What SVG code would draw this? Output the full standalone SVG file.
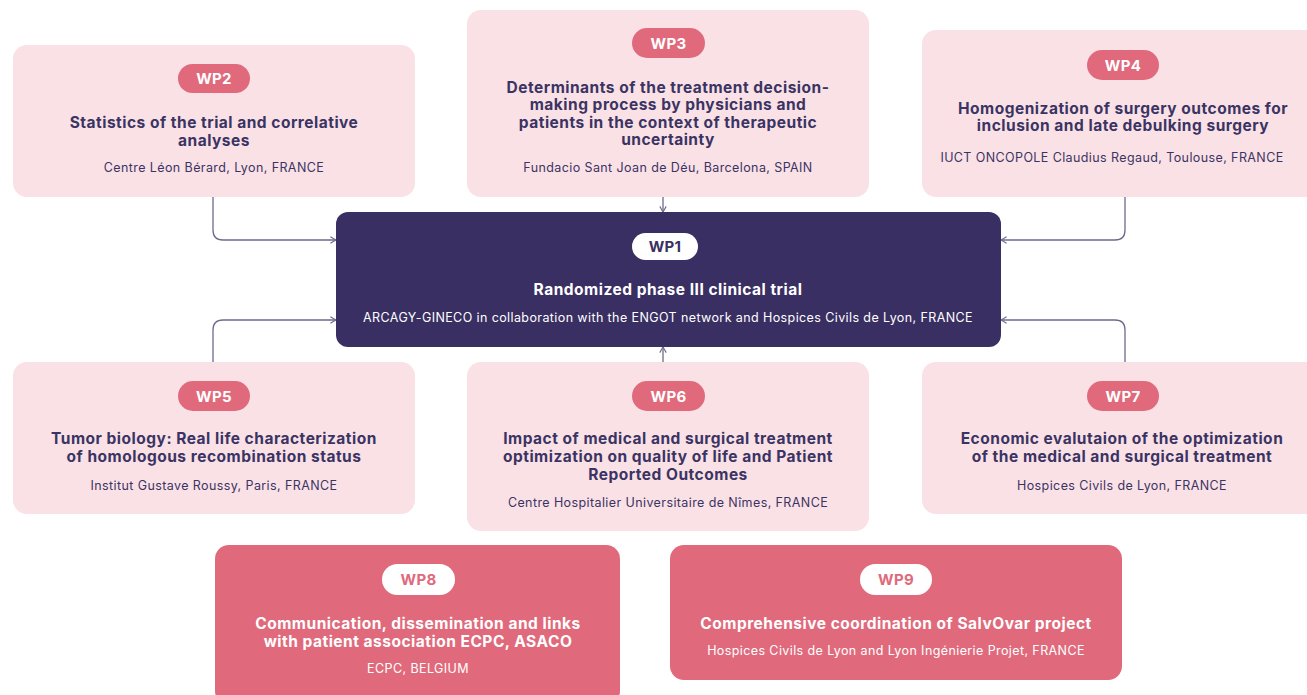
<svg xmlns="http://www.w3.org/2000/svg" width="1307" height="695" viewBox="0 0 1307 695">
  <defs>
    <style>
      .card { fill: #fae1e5; }
      .card-main { fill: #3a2f63; }
      .card-accent { fill: #e06a7c; }
      .pill { fill: #e06a7c; }
      .pill-light { fill: #ffffff; }
      .tag { font-family: Inter, "Liberation Sans", sans-serif; font-weight: 700; font-size: 15px; letter-spacing: 0.3px; text-anchor: middle; fill: #ffffff; }
      .tag-dark { fill: #3a2f63; }
      .tag-accent { fill: #e06a7c; }
      .title { font-family: Inter, "Liberation Sans", sans-serif; font-weight: 700; font-size: 15.5px; letter-spacing: 0.5px; text-anchor: middle; fill: #3a3464; }
      .sub { font-family: Inter, "Liberation Sans", sans-serif; font-weight: 400; font-size: 12.5px; letter-spacing: 0.4px; text-anchor: middle; fill: #3a3464; }
      .light { fill: #ffffff; }
      .link { fill: none; stroke: #6e6a8c; stroke-width: 1.3; }
    </style>
    <marker id="arrow" viewBox="0 0 10 10" refX="9" refY="5" markerWidth="8" markerHeight="8" orient="auto" markerUnits="userSpaceOnUse">
      <path d="M2,1 L9,5 L2,9" fill="none" stroke="#6e6a8c" stroke-width="1.4"/>
    </marker>
  </defs>

  <rect width="1307" height="695" fill="#ffffff"/>

  <!-- connectors into WP1 -->
  <g id="connectors">
    <path class="link" d="M213,197 V230 Q213,240 223,240 H336" marker-end="url(#arrow)"/>
    <path class="link" d="M663,197 V212" marker-end="url(#arrow)"/>
    <path class="link" d="M1125,197 V230 Q1125,240 1115,240 H1001" marker-end="url(#arrow)"/>
    <path class="link" d="M213,362 V330 Q213,320 223,320 H336" marker-end="url(#arrow)"/>
    <path class="link" d="M663,362 V347" marker-end="url(#arrow)"/>
    <path class="link" d="M1125,362 V330 Q1125,320 1115,320 H1001" marker-end="url(#arrow)"/>
  </g>

  <g id="wp1">
    <rect class="card-main" x="336" y="212" width="665" height="135" rx="12"/>
    <rect class="pill-light" x="632" y="233" width="66" height="27" rx="13.5"/>
    <text class="tag tag-dark" x="665" y="252">WP1</text>
    <text class="title light" x="668" y="295">Randomized phase III clinical trial</text>
    <text class="sub light" x="668" y="321.5">ARCAGY-GINECO in collaboration with the ENGOT network and Hospices Civils de Lyon, FRANCE</text>
  </g>

  <g id="wp2">
    <rect class="card" x="13" y="45" width="402" height="152" rx="14"/>
    <rect class="pill" x="178" y="64" width="72" height="29" rx="14.5"/>
    <text class="tag" x="214" y="84">WP2</text>
    <text class="title" x="214" y="128">Statistics of the trial and correlative</text>
    <text class="title" x="214" y="145.5">analyses</text>
    <text class="sub" x="214" y="171.5">Centre Léon Bérard, Lyon, FRANCE</text>
  </g>

  <g id="wp3">
    <rect class="card" x="467" y="10" width="402" height="187" rx="14"/>
    <rect class="pill" x="632" y="28" width="73" height="30" rx="15"/>
    <text class="tag" x="668.5" y="48.5">WP3</text>
    <text class="title" x="668" y="92.5">Determinants of the treatment decision-</text>
    <text class="title" x="668" y="110">making process by physicians and</text>
    <text class="title" x="668" y="127.5">patients in the context of therapeutic</text>
    <text class="title" x="668" y="145">uncertainty</text>
    <text class="sub" x="668" y="171.5">Fundacio Sant Joan de Déu, Barcelona, SPAIN</text>
  </g>

  <g id="wp4">
    <rect class="card" x="922" y="30" width="400" height="167" rx="14"/>
    <rect class="pill" x="1087" y="50" width="72" height="30" rx="15"/>
    <text class="tag" x="1123" y="70.5">WP4</text>
    <text class="title" x="1123" y="113.5">Homogenization of surgery outcomes for</text>
    <text class="title" x="1123" y="131">inclusion and late debulking surgery</text>
    <text class="sub" x="1112" y="161.5">IUCT ONCOPOLE Claudius Regaud, Toulouse, FRANCE</text>
  </g>

  <g id="wp5">
    <rect class="card" x="13" y="362" width="402" height="152" rx="14"/>
    <rect class="pill" x="178" y="381" width="72" height="30" rx="15"/>
    <text class="tag" x="214" y="401.5">WP5</text>
    <text class="title" x="214" y="443.5">Tumor biology: Real life characterization</text>
    <text class="title" x="214" y="462">of homologous recombination status</text>
    <text class="sub" x="214" y="489.5">Institut Gustave Roussy, Paris, FRANCE</text>
  </g>

  <g id="wp6">
    <rect class="card" x="467" y="362" width="402" height="169" rx="14"/>
    <rect class="pill" x="632" y="381" width="73" height="30" rx="15"/>
    <text class="tag" x="668.5" y="401.5">WP6</text>
    <text class="title" x="668" y="443.5">Impact of medical and surgical treatment</text>
    <text class="title" x="668" y="461.5">optimization on quality of life and Patient</text>
    <text class="title" x="668" y="479.5">Reported Outcomes</text>
    <text class="sub" x="668" y="506.5">Centre Hospitalier Universitaire de Nîmes, FRANCE</text>
  </g>

  <g id="wp7">
    <rect class="card" x="922" y="362" width="400" height="152" rx="14"/>
    <rect class="pill" x="1087" y="381" width="72" height="30" rx="15"/>
    <text class="tag" x="1123" y="401.5">WP7</text>
    <text class="title" x="1122" y="443.5">Economic evalutaion of the optimization</text>
    <text class="title" x="1122" y="462">of the medical and surgical treatment</text>
    <text class="sub" x="1122" y="489.5">Hospices Civils de Lyon, FRANCE</text>
  </g>

  <g id="wp8">
    <rect class="card-accent" x="215" y="545" width="405" height="160" rx="14"/>
    <rect class="pill-light" x="382" y="564" width="73" height="31" rx="15.5"/>
    <text class="tag tag-accent" x="418.5" y="585">WP8</text>
    <text class="title light" x="418" y="628.5">Communication, dissemination and links</text>
    <text class="title light" x="418" y="647">with patient association ECPC, ASACO</text>
    <text class="sub light" x="418" y="672.5">ECPC, BELGIUM</text>
  </g>

  <g id="wp9">
    <rect class="card-accent" x="670" y="545" width="452" height="135" rx="14"/>
    <rect class="pill-light" x="860" y="564" width="72" height="31" rx="15.5"/>
    <text class="tag tag-accent" x="896" y="585">WP9</text>
    <text class="title light" x="896" y="628.5">Comprehensive coordination of SalvOvar project</text>
    <text class="sub light" x="896" y="654.5">Hospices Civils de Lyon and Lyon Ingénierie Projet, FRANCE</text>
  </g>
</svg>
